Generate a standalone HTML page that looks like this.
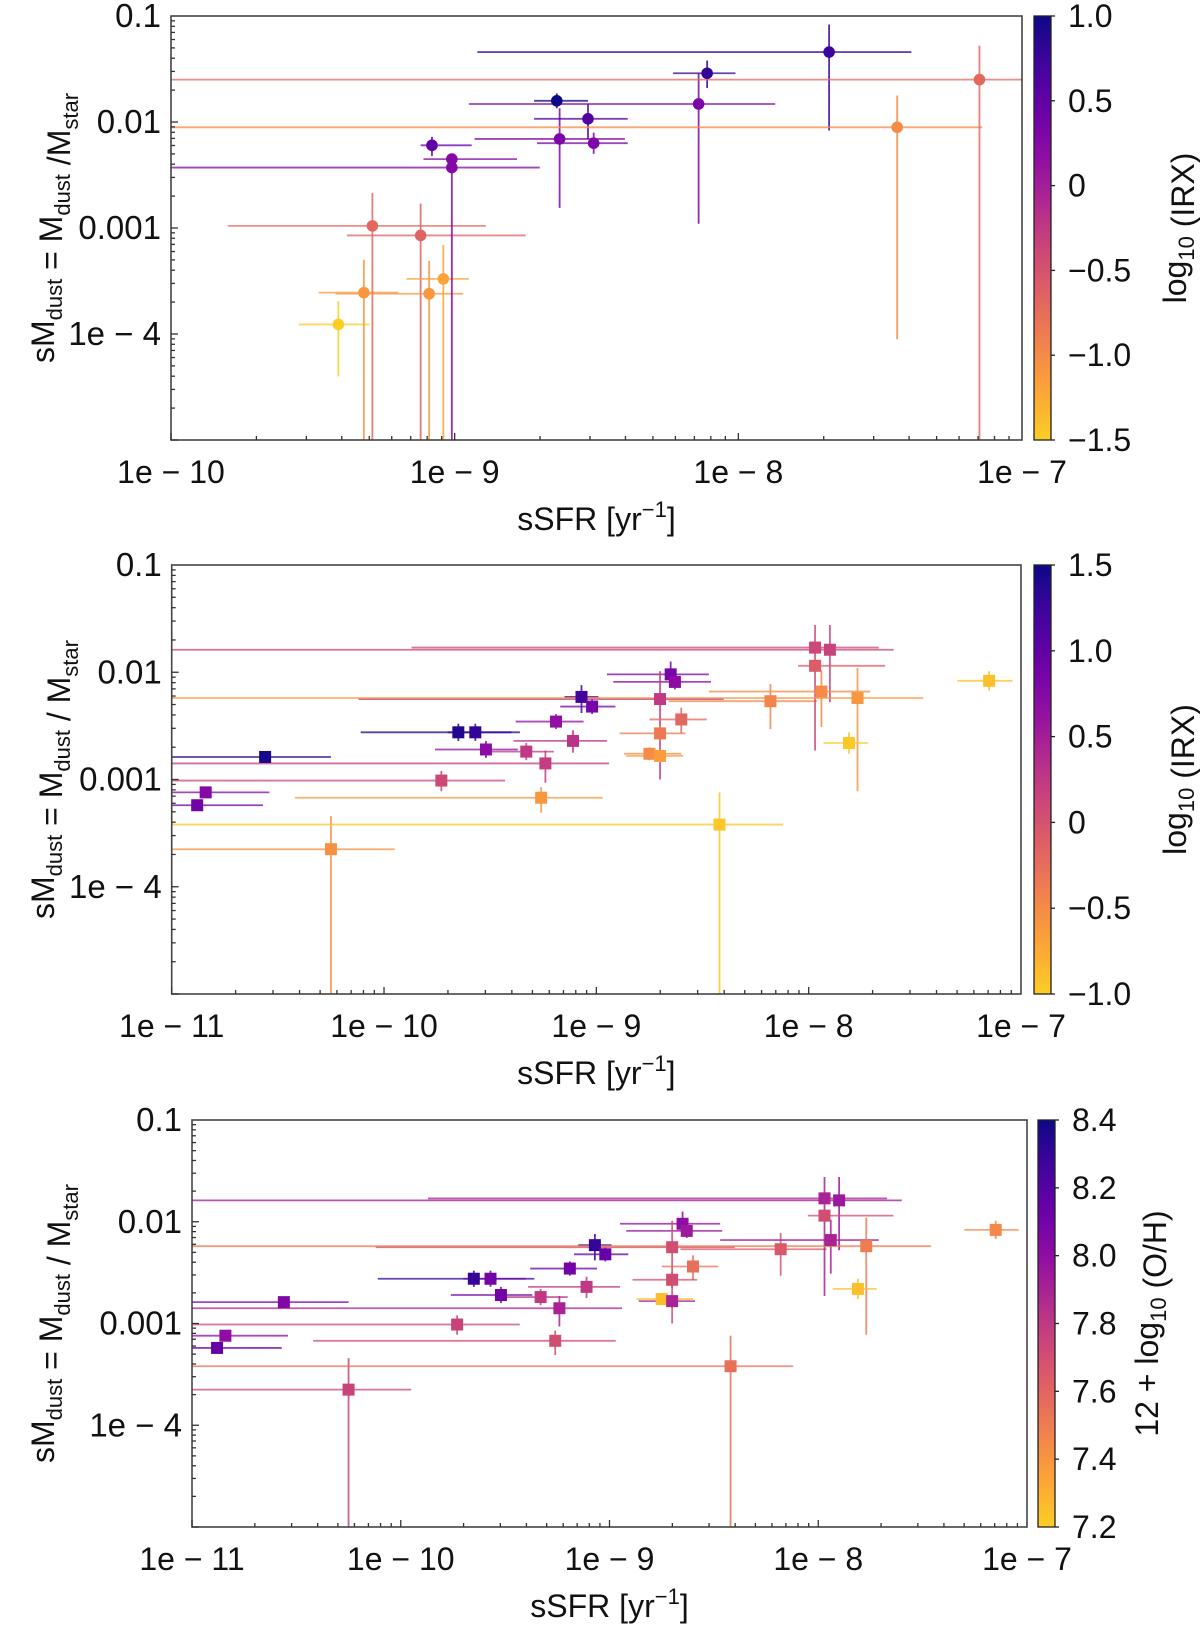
<!DOCTYPE html>
<html><head><meta charset="utf-8"><style>
html,body{margin:0;padding:0;background:#fff;}
svg{display:block;font-family:"Liberation Sans","DejaVu Sans",sans-serif;}
</style></head>
<body>
<svg id="fig" width="1200" height="1627" viewBox="0 0 1200 1627" xmlns="http://www.w3.org/2000/svg"></svg>
<script>
// ---------- Panel 1 data (log10 values) ----------
const p1_x   = [-9.41,-9.32,-9.29,-9.12,-9.09,-9.04,-9.08,-9.01,-9.01,-8.64,-8.63,-8.53,-8.51,-8.14,-8.11,-7.68,-7.44,-7.15];
const p1_xlo = [-9.55,-9.48,-9.80,-9.38,-9.42,-9.17,-9.12,-9.11,-10.5,-8.72,-8.93,-8.72,-8.71,-8.95,-8.23,-8.92,-10.5,-10.5];
const p1_xhi = [-9.30,-9.20,-8.89,-8.75,-8.97,-8.95,-8.94,-8.78,-8.70,-8.53,-8.40,-8.39,-8.39,-7.87,-8.01,-7.39,-7.14,-6.9];
const p1_y   = [-3.91,-3.61,-2.98,-3.07,-3.62,-3.48,-2.22,-2.35,-2.43,-1.80,-2.16,-1.97,-2.20,-1.83,-1.54,-1.34,-2.05,-1.60];
const p1_ylo = [-4.40,-6,-6,-6,-6,-6,-2.32,-2.40,-6,-1.87,-2.81,-2.16,-2.30,-2.96,-1.68,-2.08,-4.05,-6];
const p1_yhi = [-3.69,-3.30,-2.67,-2.77,-3.31,-3.16,-2.14,-2.30,-2.32,-1.73,-1.87,-1.83,-2.10,-1.54,-1.42,-1.08,-1.75,-1.28];
const p1_c   = [-1.5,-1.1,-0.7,-0.65,-1.1,-1.2,0.5,0.25,0.25,1.0,0.3,0.6,0.3,0.3,0.8,0.75,-1.0,-0.7];

// ---------- Panels 2 & 3 data (log10 values) ----------
const p2_x   = [-10.88,-10.84,-10.56,-10.25,-9.73,-9.65,-9.57,-9.52,-9.33,-9.24,-9.26,-9.19,-9.11,-9.07,-9.02,-8.65,-8.63,-8.70,-8.60,-8.70,-8.75,-8.70,-8.42,-8.18,-7.97,-7.90,-7.97,-7.94,-7.77,-7.81,-7.15];
const p2_xlo = [-11.2,-11.2,-11.2,-11.2,-11.2,-10.11,-9.70,-9.76,-9.53,-11.2,-10.42,-9.38,-9.39,-9.15,-9.17,-8.95,-8.92,-10.12,-8.75,-8.89,-8.87,-8.86,-11.2,-8.66,-9.87,-11.2,-8.05,-8.47,-11.2,-7.93,-7.30];
const p2_xhi = [-10.57,-10.54,-10.25,-9.95,-9.43,-9.36,-9.40,-9.37,-9.20,-8.94,-8.97,-9.06,-8.95,-8.99,-8.91,-8.47,-8.46,-8.40,-8.48,-8.58,-8.60,-8.59,-8.12,-7.96,-7.67,-7.60,-7.64,-7.71,-7.46,-7.72,-7.04];
const p2_y   = [-3.24,-3.12,-2.79,-3.65,-3.01,-2.56,-2.56,-2.72,-2.74,-2.85,-3.17,-2.46,-2.64,-2.23,-2.32,-2.02,-2.09,-2.25,-2.44,-2.57,-2.76,-2.78,-3.42,-2.27,-1.77,-1.79,-1.94,-2.18,-2.24,-2.66,-2.08];
const p2_ylo = [-3.29,-3.17,-2.84,-6,-3.11,-2.64,-2.64,-2.80,-2.82,-3.03,-3.31,-2.53,-2.75,-2.38,-2.39,-2.12,-2.16,-3.00,-2.57,-2.65,-2.82,-2.84,-6,-2.53,-2.73,-2.28,-1.99,-2.51,-3.11,-2.76,-2.17];
const p2_yhi = [-3.19,-3.07,-2.74,-3.34,-2.92,-2.48,-2.48,-2.64,-2.66,-2.73,-3.07,-2.39,-2.54,-2.12,-2.25,-1.90,-2.02,-1.99,-2.33,-2.49,-2.70,-2.72,-3.12,-2.11,-1.56,-1.56,-1.89,-1.98,-1.96,-2.56,-1.99];
const p2_c   = [0.9,0.75,1.45,-0.55,0.1,1.4,1.3,0.7,0.25,0.2,-0.6,0.65,0.3,1.2,0.85,0.85,0.7,0.25,-0.2,-0.35,-0.5,-0.65,-0.95,-0.45,0.1,0.15,-0.1,-0.5,-0.6,-0.95,-0.9];
const p3_c   = [8.15,8.0,8.05,7.75,7.75,8.3,8.1,8.1,7.8,7.9,7.7,8.1,7.8,8.3,8.15,8.0,7.95,7.7,7.55,7.7,7.25,7.9,7.55,7.65,7.9,7.95,7.7,7.9,7.5,7.25,7.45];

// tick labels
const p1_xticks = [-10,-9,-8,-7];
const p1_xtickLabels = ["1e − 10","1e − 9","1e − 8","1e − 7"];
const p23_xticks = [-11,-10,-9,-8,-7];
const p23_xtickLabels = ["1e − 11","1e − 10","1e − 9","1e − 8","1e − 7"];
const yticks = [-1,-2,-3,-4];
const ytickLabels = ["0.1","0.01","0.001","1e − 4"];
const cb1_ticks = [1.0,0.5,0,-0.5,-1.0,-1.5];
const cb1_labels = ["1.0","0.5","0","−0.5","−1.0","−1.5"];
const cb2_ticks = [1.5,1.0,0.5,0,-0.5,-1.0];
const cb2_labels = ["1.5","1.0","0.5","0","−0.5","−1.0"];
const cb3_ticks = [8.4,8.2,8.0,7.8,7.6,7.4,7.2];
const cb3_labels = ["8.4","8.2","8.0","7.8","7.6","7.4","7.2"];

const NS = "http://www.w3.org/2000/svg";
const svg = document.getElementById('fig');
function mk(tag, attrs, parent){
  const e = document.createElementNS(NS, tag);
  for (const k in attrs) e.setAttribute(k, attrs[k]);
  (parent||svg).appendChild(e);
  return e;
}
const plasma = [[13,8,135],[65,4,157],[106,0,168],[143,13,164],[177,42,144],[204,71,120],[225,100,98],[242,132,75],[252,166,54],[252,206,37]];
function cmap(t){
  t = Math.max(0, Math.min(1, t));
  const s = t*(plasma.length-1), i = Math.min(Math.floor(s), plasma.length-2), f = s-i;
  const a = plasma[i], b = plasma[i+1];
  return `rgb(${Math.round(a[0]+(b[0]-a[0])*f)},${Math.round(a[1]+(b[1]-a[1])*f)},${Math.round(a[2]+(b[2]-a[2])*f)})`;
}

function panel(o){
  const g = mk('g', {});
  
  
  const X = v => o.L + (v - o.xmin)/(o.xmax - o.xmin)*(o.R - o.L);
  const Y = v => o.B - (v - o.ymin)/(o.ymax - o.ymin)*(o.B - o.T);
  const C = v => cmap((o.cmax - v)/(o.cmax - o.cmin));
  const clipId = 'clip-' + o.name;
  const cp = mk('clipPath', {id: clipId}, g);
  mk('rect', {x:o.L, y:o.T, width:o.R-o.L, height:o.B-o.T}, cp);
  const dg = mk('g', {'clip-path':`url(#${clipId})`}, g);
  
  
  for (let i=0;i<o.x.length;i++){
    const col = C(o.c[i]);
    const h = mk('line', {x1:X(o.xlo[i]), x2:X(o.xhi[i]), y1:Y(o.y[i]), y2:Y(o.y[i]), stroke:col, 'stroke-width':1.8, 'stroke-opacity':0.75}, dg);
    
    
    const v = mk('line', {x1:X(o.x[i]), x2:X(o.x[i]), y1:Y(o.ylo[i]), y2:Y(o.yhi[i]), stroke:col, 'stroke-width':1.8, 'stroke-opacity':0.85}, dg);
    
    
  }
  for (let i=0;i<o.x.length;i++){
    const col = C(o.c[i]);
    let m;
    if (o.marker === 'circle') m = mk('circle', {cx:X(o.x[i]), cy:Y(o.y[i]), r:5.8, fill:col}, dg);
    else m = mk('rect', {x:X(o.x[i])-6, y:Y(o.y[i])-6, width:12, height:12, fill:col}, dg);
    
    
  }
  const fr = mk('rect', {x:o.L, y:o.T, width:o.R-o.L, height:o.B-o.T, fill:'none', stroke:'#444', 'stroke-width':1.6}, g);
  
  
  for (let d=o.xmin; d<o.xmax; d++){
    for (let k=1;k<10;k++){
      const px = X(d + Math.log10(k));
      mk('line', {x1:px, x2:px, y1:o.B, y2:o.B-(k===1?7:4), stroke:'#333', 'stroke-width':1.3}, g);
    }
  }
  for (let d=o.ymin; d<o.ymax; d++){
    for (let k=1;k<10;k++){
      const py = Y(d + Math.log10(k));
      mk('line', {x1:o.L, x2:o.L+(k===1?7:4), y1:py, y2:py, stroke:'#333', 'stroke-width':1.3}, g);
    }
  }
  o.xticks.forEach((v,i)=>{
    const t = mk('text', {x:X(v), y:o.B+43, 'font-size':32, 'text-anchor':'middle', fill:'#111'}, g);
    t.textContent = o.xtickLabels[i];
    
    
  });
  yticks.forEach((v,i)=>{
    const t = mk('text', {x:o.L-10, y:Y(v)+11, 'font-size':33, 'text-anchor':'end', fill:'#111'}, g);
    t.textContent = ytickLabels[i];
    
    
  });
  const xt = mk('text', {x:(o.L+o.R)/2, y:o.B+90, 'font-size':32, 'text-anchor':'middle', fill:'#111'}, g);
  xt.innerHTML = 'sSFR [yr<tspan dy="-13" font-size="22">−1</tspan><tspan dy="13">]</tspan>';
  
  
  const yc = (o.T+o.B)/2;
  const yt = mk('text', {x:0, y:0, 'font-size':32, 'text-anchor':'middle', fill:'#111', transform:`translate(${o.ytx},${yc}) rotate(-90)`}, g);
  yt.innerHTML = o.yTitle;
  
  
  const gid = 'grad-' + o.name;
  const lg = mk('linearGradient', {id:gid, x1:0, y1:0, x2:0, y2:1}, g);
  for (let s=0;s<=20;s++) mk('stop', {offset:s/20, 'stop-color':cmap(s/20)}, lg);
  const cb = mk('rect', {x:o.cbx, y:o.T, width:17, height:o.B-o.T, fill:`url(#${gid})`, stroke:'#222', 'stroke-width':1.3}, g);
  
  
  o.cbTicks.forEach((v,i)=>{
    const py = o.T + (o.cmax - v)/(o.cmax-o.cmin)*(o.B-o.T);
    mk('line', {x1:o.cbx+17, x2:o.cbx+21, y1:py, y2:py, stroke:'#222', 'stroke-width':1.3}, g);
    const t = mk('text', {x:o.cbx+34, y:py+11, 'font-size':32, fill:'#111'}, g);
    t.textContent = o.cbLabels[i];
    
    
  });
  const ct = mk('text', {x:0, y:0, 'font-size':32, 'text-anchor':'middle', fill:'#111', transform:`translate(${o.cbtx},${yc}) rotate(-90)`}, g);
  ct.innerHTML = o.cbTitle;
  
  
}

const sub = s => `<tspan dy="8" font-size="22">${s}</tspan><tspan dy="-8"></tspan>`;
panel({name:'panel-irx-top', L:171, R:1022, T:16, B:440, xmin:-10, xmax:-7, ymin:-5, ymax:-1,
  x:p1_x, xlo:p1_xlo, xhi:p1_xhi, y:p1_y, ylo:p1_ylo, yhi:p1_yhi, c:p1_c, cmin:-1.5, cmax:1.0,
  marker:'circle', xticks:p1_xticks, xtickLabels:p1_xtickLabels,
  yTitle:`sM${sub('dust')} = M${sub('dust')} /M${sub('star')}`, ytx:54,
  cbx:1034, cbTicks:cb1_ticks, cbLabels:cb1_labels, cbTitle:`log${sub('10')} (IRX)`, cbtx:1186});
panel({name:'panel-irx-middle', L:171.7, R:1021, T:565, B:994, xmin:-11, xmax:-7, ymin:-5, ymax:-1,
  x:p2_x, xlo:p2_xlo, xhi:p2_xhi, y:p2_y, ylo:p2_ylo, yhi:p2_yhi, c:p2_c, cmin:-1.0, cmax:1.5,
  marker:'square', xticks:p23_xticks, xtickLabels:p23_xtickLabels,
  yTitle:`sM${sub('dust')}  =  M${sub('dust')}  /  M${sub('star')}`, ytx:54,
  cbx:1034, cbTicks:cb2_ticks, cbLabels:cb2_labels, cbTitle:`log${sub('10')} (IRX)`, cbtx:1186});
panel({name:'panel-metallicity-bottom', L:192, R:1027, T:1120, B:1527, xmin:-11, xmax:-7, ymin:-5, ymax:-1,
  x:p2_x, xlo:p2_xlo, xhi:p2_xhi, y:p2_y, ylo:p2_ylo, yhi:p2_yhi, c:p3_c, cmin:7.2, cmax:8.4,
  marker:'square', xticks:p23_xticks, xtickLabels:p23_xtickLabels,
  yTitle:`sM${sub('dust')}  =  M${sub('dust')}  /  M${sub('star')}`, ytx:54,
  cbx:1038, cbTicks:cb3_ticks, cbLabels:cb3_labels, cbTitle:`12 + log${sub('10')} (O/H)`, cbtx:1158});
</script>
</body></html>
